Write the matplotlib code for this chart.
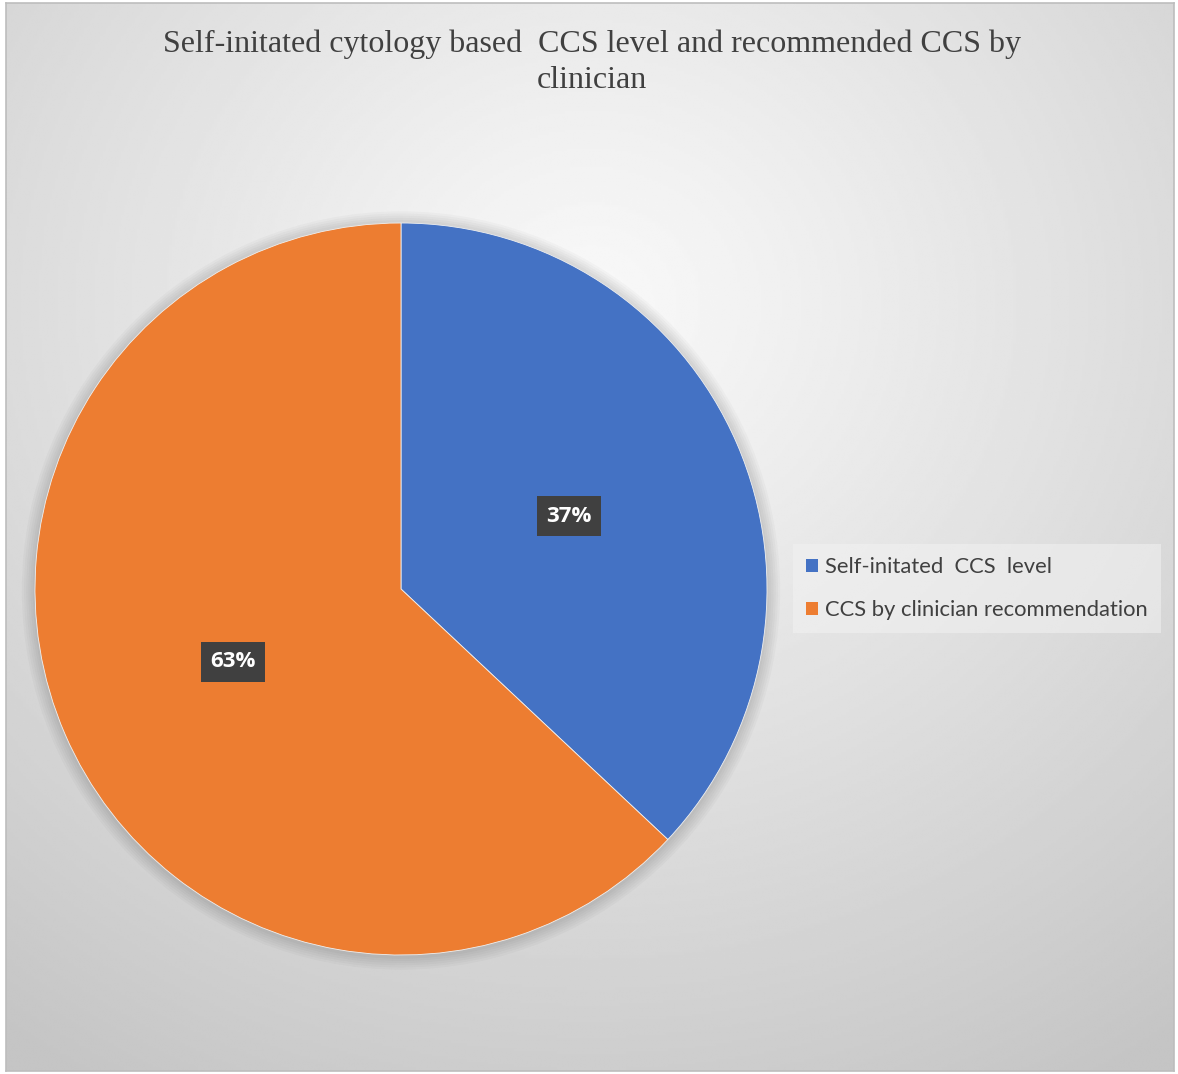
import numpy as np
import matplotlib
matplotlib.use("Agg")
import matplotlib.pyplot as plt
from matplotlib.patches import Patch, Circle

# data
labels = ["Self-initated  CCS  level", "CCS by clinician recommendation"]
shares = [37, 63]
colors = ["#4472C4", "#ED7D31"]
title = "Self-initated cytology based  CCS level and recommended CCS by\nclinician"

W, H = 1178, 1074
fig = plt.figure(figsize=(W / 100, H / 100), dpi=100)
fig.patch.set_facecolor("white")

# background with radial gradient, inside a thin frame
bg = fig.add_axes([6 / W, 3 / H, 1168 / W, 1068 / H])
yy, xx = np.mgrid[0:400, 0:440]
cx, cy = 0.5 * 440, 0.28 * 400
d = np.sqrt(((xx - cx) / 440) ** 2 + ((yy - cy) / 400) ** 2) / 0.85
d = np.clip(d, 0, 1)
light, dark = 0.975, 0.77
grad = light + (dark - light) * d ** 1.1
bg.imshow(grad, cmap="gray", vmin=0, vmax=1, extent=[0, 1, 0, 1],
          origin="upper", aspect="auto", interpolation="bilinear")
bg.set_xlim(0, 1)
bg.set_ylim(0, 1)
bg.set_xticks([])
bg.set_yticks([])
for s in bg.spines.values():
    s.set_color("#bdbdbd")
    s.set_linewidth(1.2)

fig.text(592 / W, 1 - 62 / H, title, ha="center", va="center",
         family="Liberation Serif", fontsize=23, color="#404040",
         linespacing=1.3)

# pie
cxp, cyp, r = 401, 589, 366
ax = fig.add_axes([(cxp - r) / W, (H - cyp - r) / H, 2 * r / W, 2 * r / H])
ax.axis("off")

# soft shadow round the pie
for k in range(6):
    ax.add_patch(Circle((0, -0.004), 1 + 0.006 * (k + 1), color="black",
                        alpha=0.025, lw=0, zorder=0, clip_on=False))

wedges, texts, autotexts = ax.pie(
    shares, colors=colors, startangle=90, counterclock=False, radius=1,
    autopct="%d%%", pctdistance=0.5,
    wedgeprops=dict(linewidth=0.6, edgecolor="#f0f0f0"),
    textprops=dict(color="white", fontsize=16, fontweight="bold", family="Open Sans"),
)
ax.set_xlim(-1, 1)
ax.set_ylim(-1, 1)
ax.set_aspect("auto")
for t in autotexts:
    t.set_bbox(dict(boxstyle="square,pad=0.42", facecolor="#404040",
                    edgecolor="none"))

# legend
handles = [Patch(facecolor=c, edgecolor="none") for c in colors]
leg = fig.legend(handles, labels, loc="upper left",
                 bbox_to_anchor=(793 / W, 1 - 544 / H),
                 frameon=True, fancybox=False, framealpha=0.55,
                 facecolor="#f2f2f2", edgecolor="none",
                 handlelength=0.55, handleheight=0.55, handletextpad=0.3,
                 labelspacing=1.05, borderpad=0.6, borderaxespad=0,
                 prop=dict(family="Lato", size=15.8))
for t in leg.get_texts():
    t.set_color("#404040")

fig.savefig("out.png", dpi=100)
